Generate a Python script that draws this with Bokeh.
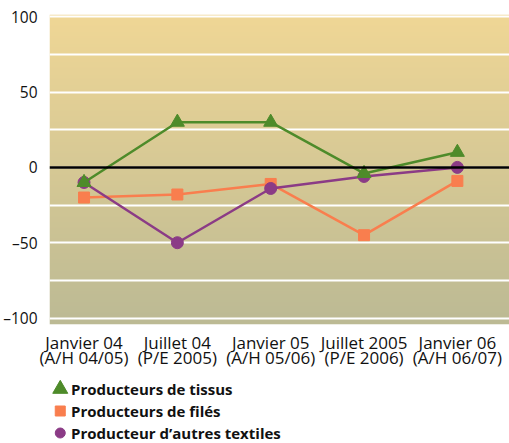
import numpy as np
from bokeh.plotting import figure
from bokeh.layouts import column
from bokeh.models import Range1d, FixedTicker, Span
from bokeh.core.properties import value
from bokeh.embed import file_html
from bokeh.resources import INLINE

# ---- data ----
categories = ["Janvier 04\n(A/H 04/05)", "Juillet 04\n(P/E 2005)", "Janvier 05\n(A/H 05/06)",
              "Juillet 2005\n(P/E 2006)", "Janvier 06\n(A/H 06/07)"]
x_pos = [0, 1, 2, 3, 4]
tissus = [-10, 30, 30, -4, 10]
files = [-20, -18, -11, -45, -9]
autres = [-10, -50, -14, -6, 0]
y_ticks = [-100, -50, 0, 50, 100]
y_labels = ["\u2013100", "\u201350", "0", "50", "100"]
grid_ticks = [-100, -75, -50, -25, 0, 25, 50, 75, 100]
series_names = ["Producteurs de tissus", "Producteurs de filés", "Producteur d\u2019autres textiles"]
legend_rows = [0, 1, 2]

# ---- styling ----
x0, x1 = -0.37, 4.58
y0, y1 = -104.3, 101.5
FONT = "Open Sans"
GREEN = "#4e8b2a"
ORANGE = "#f97e4e"
PURPLE = "#8b3b86"

p = figure(frame_width=462, frame_height=310, x_range=Range1d(x0, x1), y_range=Range1d(y0, y1),
           output_backend="svg", toolbar_location=None,
           min_border_left=39, min_border_right=0, min_border_top=14, min_border_bottom=54)
p.outline_line_color = None

# gradient background
n = 256
img = np.empty((n, 1), dtype=np.uint32)
view = img.view(dtype=np.uint8).reshape((n, 1, 4))
top = np.array([240, 215, 150])
bot = np.array([188, 186, 148])
for i in range(n):
    t = i / (n - 1)  # 0 bottom -> 1 top
    c = bot + (top - bot) * t
    view[i, 0, :3] = c.astype(np.uint8)
    view[i, 0, 3] = 255
p.image_rgba(image=[img], x=x0, y=y0, dw=x1 - x0, dh=y1 - y0, level="image")

p.xgrid.grid_line_color = None
p.ygrid.ticker = FixedTicker(ticks=grid_ticks)
p.ygrid.grid_line_color = "white"
p.ygrid.grid_line_width = 2
p.ygrid.level = "underlay"

p.add_layout(Span(location=0, dimension="width", line_color="black", line_width=2.5))

for ax in (p.xaxis, p.yaxis):
    ax.axis_line_color = None
    ax.major_tick_line_color = None
    ax.minor_tick_line_color = None
    ax.major_label_text_font = FONT
    ax.major_label_text_color = "#111111"

p.yaxis.major_label_text_font_size = "15.5px"
p.xaxis.major_label_text_font_size = "17px"
p.xaxis.major_label_text_line_height = 0.68
p.yaxis.ticker = FixedTicker(ticks=y_ticks)
p.yaxis.major_label_overrides = {t: l for t, l in zip(y_ticks, y_labels)}
p.yaxis.major_label_standoff = 6
p.xaxis.ticker = FixedTicker(ticks=x_pos)
p.xaxis.major_label_overrides = {x: c for x, c in zip(x_pos, categories)}
p.xaxis.major_label_standoff = 0

p.line(x_pos, files, line_color=ORANGE, line_width=2.5)
p.scatter(x_pos, files, marker="square", size=11, fill_color=ORANGE, line_color=ORANGE)
p.line(x_pos, autres, line_color=PURPLE, line_width=2.5)
p.scatter(x_pos, autres, marker="circle", size=12, fill_color=PURPLE, line_color=PURPLE)
p.line(x_pos, tissus, line_color=GREEN, line_width=2.5)
p.scatter(x_pos, tissus, marker="triangle", size=14, fill_color=GREEN, line_color=GREEN)

# legend panel (x in pixels from the frame's left edge, y in legend rows)
H2 = 65
p2 = figure(width=501, height=H2, x_range=Range1d(0, 462), y_range=Range1d(2.477, -0.477),
            x_axis_type=None, y_axis_type=None, output_backend="svg", toolbar_location=None,
            min_border=0)
p2.outline_line_color = None
p2.grid.visible = False
mk_x = 11
tx_x = 22
p2.scatter([mk_x], [legend_rows[0]], marker="triangle", size=15, fill_color=GREEN, line_color=GREEN)
p2.scatter([mk_x], [legend_rows[1]], marker="square", size=10, fill_color=ORANGE, line_color=ORANGE)
p2.scatter([mk_x], [legend_rows[2]], marker="circle", size=10, fill_color=PURPLE, line_color=PURPLE)
p2.text(x=[tx_x] * 3, y=legend_rows, text=series_names, text_font=value(FONT),
        text_font_size="15px", text_font_style="bold", text_color="#111111",
        text_baseline="middle", text_align="left")

layout = column(p, p2, spacing=0)
open("out.html", "w").write(file_html(layout, INLINE))
